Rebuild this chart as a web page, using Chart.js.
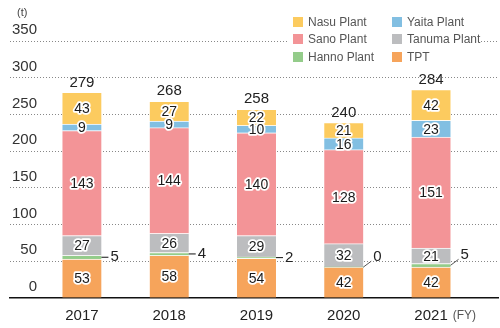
<!DOCTYPE html>
<html>
<head>
<meta charset="utf-8">
<script src="https://cdn.jsdelivr.net/npm/chart.js@4.4.4/dist/chart.umd.min.js"></script>
<style>
  html, body { margin: 0; padding: 0; background: #fff; }
  body { width: 500px; height: 328px; position: relative; overflow: hidden; font-family: 'Liberation Sans', Arial, sans-serif; }
  #wrap { position: absolute; left: 0; top: 0; width: 500px; height: 328px; }
  .unit { position: absolute; left: 17px; top: 6px; font-size: 11px; color: #444; }
  #legend { position: absolute; left: 287px; top: 13px; width: 188px; padding-left: 6px; background: #fff; display: grid; grid-template-columns: 99px 89px; }
  .item { display: flex; align-items: center; height: 17.5px; font-size: 12px; color: #555; white-space: nowrap; }
  .box { width: 10px; height: 10px; margin-right: 5px; flex: none; }
</style>
</head>
<body>
<div id="wrap"><canvas id="chart"></canvas></div>
<div class="unit">(t)</div>
<div id="legend"></div>
<script>
const years = [2017, 2018, 2019, 2020, 2021]
const tpt = [53, 58, 54, 42, 42]
const hanno = [5, 4, 2, 0, 5]
const tanuma = [27, 26, 29, 32, 21]
const sano = [143, 144, 140, 128, 151]
const yaita = [9, 9, 10, 16, 23]
const nasu = [43, 27, 22, 21, 42]
const totals = [279, 268, 258, 240, 284]
const yTicks = [0, 50, 100, 150, 200, 250, 300, 350]

// leader line shape for the small Hanno values, per year
const hannoLeader = ['flat', 'flat', 'flat', 'up', 'up']

const FONT = '"Liberation Sans", Arial, sans-serif'

const series = [
  {label: 'TPT', values: tpt, color: '#f6a45b'},
  {label: 'Hanno Plant', values: hanno, color: '#94cc8a'},
  {label: 'Tanuma Plant', values: tanuma, color: '#bcbdbf'},
  {label: 'Sano Plant', values: sano, color: '#f39497'},
  {label: 'Yaita Plant', values: yaita, color: '#82bfe2'},
  {label: 'Nasu Plant', values: nasu, color: '#fccb5f'},
]
const legendOrder = ['Nasu Plant', 'Yaita Plant', 'Sano Plant', 'Tanuma Plant', 'Hanno Plant', 'TPT']

document.getElementById('legend').innerHTML = legendOrder.map((name) => {
  const s = series.find((d) => d.label === name)
  return `<div class="item"><span class="box" style="background:${s.color}"></span>${name}</div>`
}).join('')

const barLabels = {
  id: 'barLabels',
  afterDatasetsDraw(chart) {
    const ctx = chart.ctx
    ctx.save()
    ctx.textBaseline = 'middle'
    ctx.lineJoin = 'round'
    chart.data.datasets.forEach((ds, i) => {
      const meta = chart.getDatasetMeta(i)
      meta.data.forEach((bar, j) => {
        const v = ds.data[j].y
        const cy = (bar.y + bar.base) / 2
        if (ds.label === 'Hanno Plant') {
          const edge = bar.x + bar.width / 2
          ctx.font = '15px ' + FONT
          ctx.textAlign = 'left'
          ctx.lineWidth = 1
          ctx.beginPath()
          if (hannoLeader[j] === 'flat') {
            ctx.strokeStyle = '#111'
            ctx.moveTo(edge, cy)
            ctx.lineTo(edge + 7, cy)
            ctx.stroke()
            ctx.fillStyle = '#222'
            ctx.fillText(v, edge + 9, cy)
          } else {
            ctx.strokeStyle = '#555'
            ctx.moveTo(edge, cy)
            ctx.lineTo(edge + 8, cy - 6)
            ctx.stroke()
            ctx.fillStyle = '#222'
            ctx.fillText(v, edge + 10, cy - 10)
          }
          return
        }
        ctx.font = '14px ' + FONT
        ctx.textAlign = 'center'
        ctx.strokeStyle = '#fff'
        ctx.lineWidth = 3.5
        ctx.strokeText(v, bar.x, cy + 1)
        ctx.fillStyle = '#1a1a1a'
        ctx.fillText(v, bar.x, cy + 1)
      })
    })
    // totals above each bar
    const top = chart.getDatasetMeta(chart.data.datasets.length - 1)
    ctx.font = '15px ' + FONT
    ctx.textAlign = 'center'
    ctx.fillStyle = '#222'
    top.data.forEach((bar, j) => {
      ctx.fillText(totals[j], bar.x, bar.y - 10)
    })
    // (FY) after the last year
    const xs = chart.scales.x
    const last = years[years.length - 1]
    const lx = xs.getPixelForValue(last) + ctx.measureText(String(last)).width / 2 + 5
    ctx.font = '12px ' + FONT
    ctx.textAlign = 'left'
    ctx.fillStyle = '#555'
    ctx.fillText('(FY)', lx, 316)
    ctx.restore()
  },
}

new Chart(document.getElementById('chart'), {
  type: 'bar',
  data: {
    datasets: series.map((s) => ({
      label: s.label,
      data: years.map((x, i) => ({x, y: s.values[i]})),
      backgroundColor: s.color,
      borderColor: 'rgba(255,255,255,0.55)',
      borderWidth: {top: 1, left: 0, right: 0, bottom: 0},
      borderSkipped: false,
      barThickness: 39,
    })),
  },
  options: {
    responsive: true,
    maintainAspectRatio: false,
    animation: false,
    layout: {padding: {top: 41, left: 6, right: 2, bottom: 0}},
    plugins: {legend: {display: false}, tooltip: {enabled: false}},
    scales: {
      x: {
        type: 'linear',
        stacked: true,
        offset: false,
        min: 2016.176,
        max: 2021.767,
        afterBuildTicks: (s) => { s.ticks = years.map((v) => ({value: v})) },
        afterFit: (s) => { s.height = 30 },
        grid: {display: false, drawTicks: false},
        border: {display: true, color: '#111', width: 1.5},
        ticks: {
          callback: (v) => String(v),
          font: {family: FONT, size: 15},
          color: '#222',
          padding: 9,
          maxRotation: 0,
          autoSkip: false,
        },
      },
      y: {
        stacked: true,
        min: 0,
        max: 350,
        afterBuildTicks: (s) => { s.ticks = yTicks.map((v) => ({value: v})) },
        grid: {
          drawTicks: false,
          color: (c) => (c.tick && c.tick.value === 0 ? 'rgba(0,0,0,0)' : '#888'),
          lineWidth: 1,
        },
        border: {display: false, dash: [1, 2]},
        ticks: {
          mirror: true,
          crossAlign: 'far',
          padding: 2,
          labelOffset: -11,
          font: {family: FONT, size: 15},
          color: '#333',
        },
      },
    },
  },
  plugins: [barLabels],
})
</script>
</body>
</html>
